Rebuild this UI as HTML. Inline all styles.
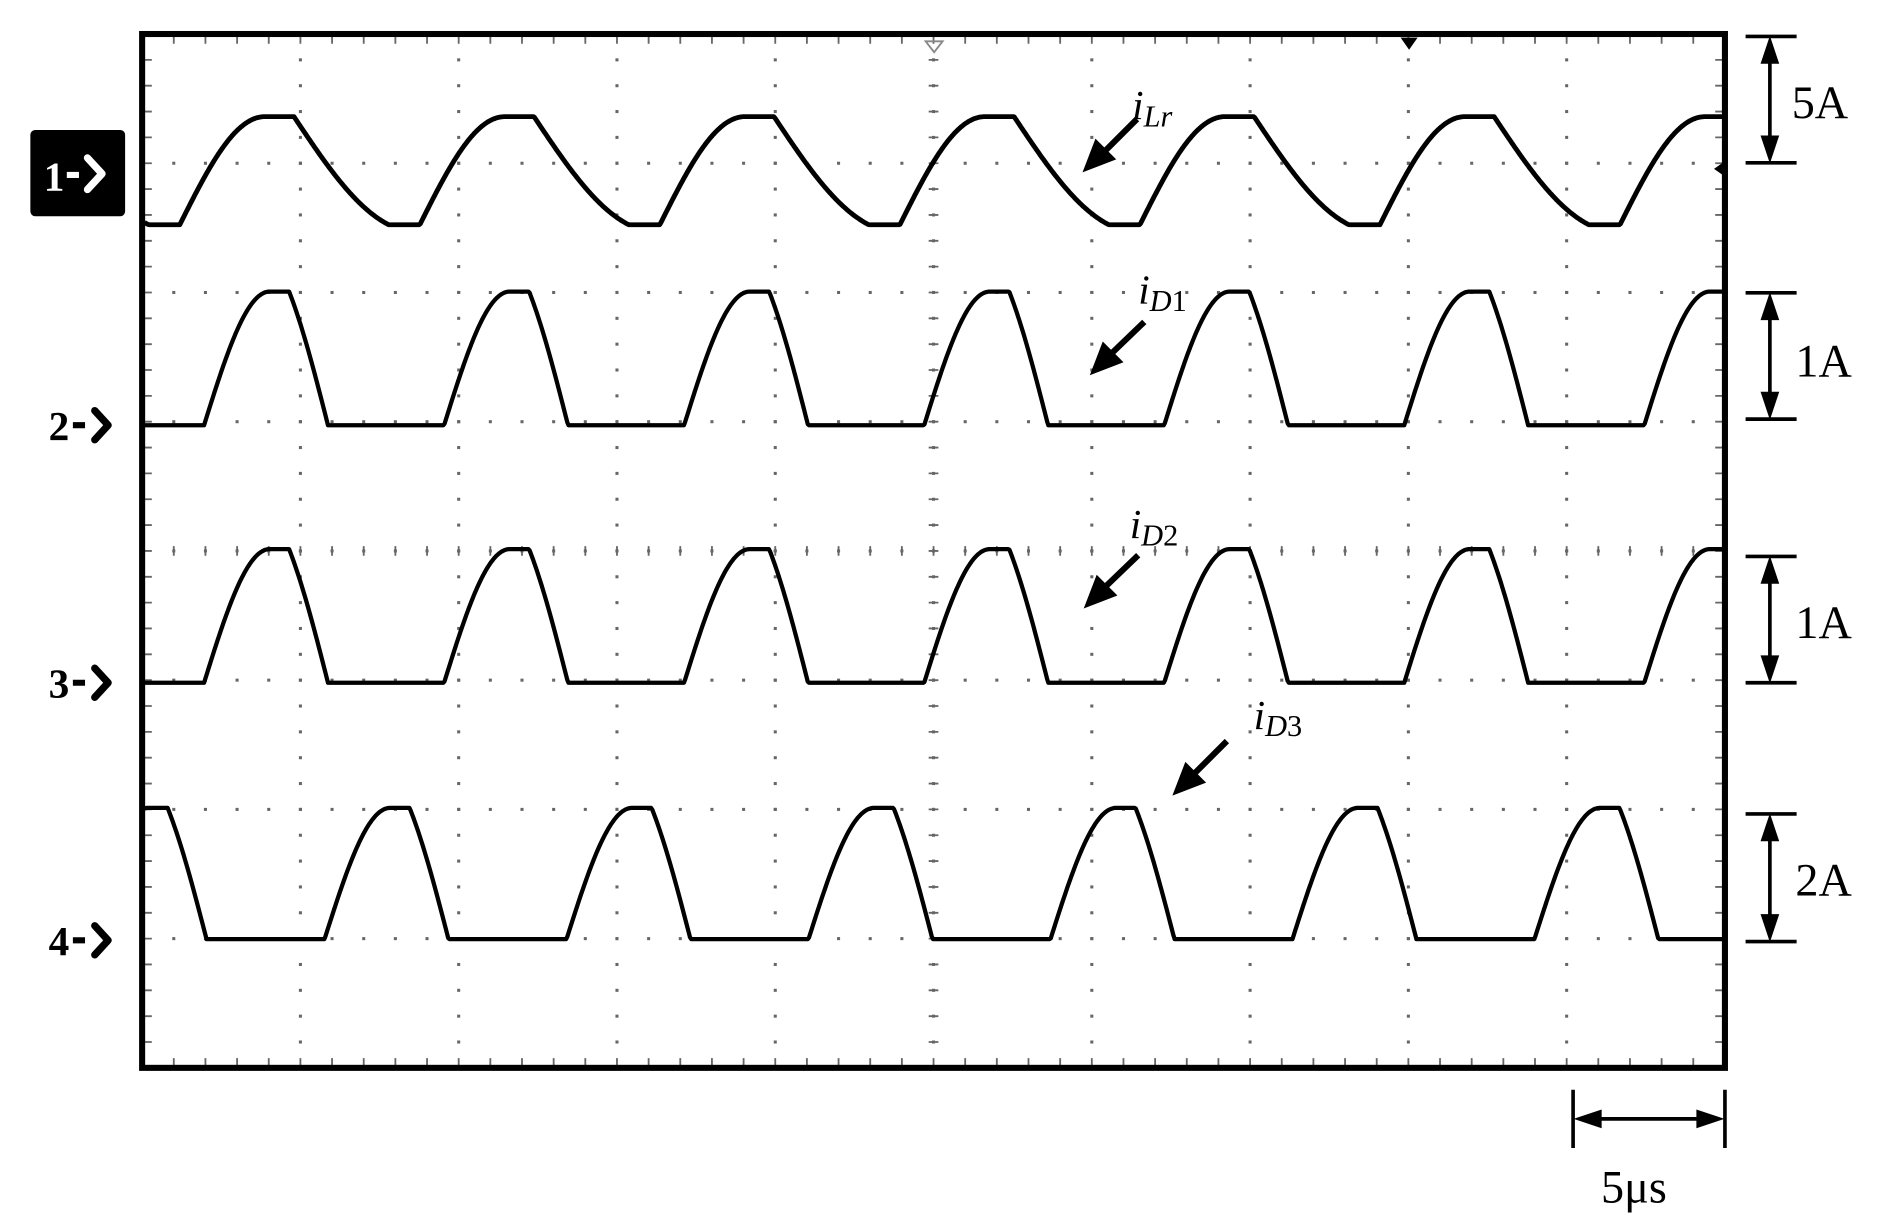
<!DOCTYPE html>
<html><head><meta charset="utf-8">
<style>
html,body{margin:0;padding:0;background:#fff;}
svg{display:block;}
text{font-family:"Liberation Serif",serif;}
</style></head>
<body>
<svg id="s" width="1895" height="1227" viewBox="0 0 1560 1010" preserveAspectRatio="none" xmlns="http://www.w3.org/2000/svg">
<g id="grid" fill="#666"></g>
<g id="waves" fill="none" stroke="#000" stroke-linejoin="round"></g>
<rect x="117" y="28" width="1303" height="851" fill="none" stroke="#000" stroke-width="5"/>
<path d="M762,34 L776,34 L769,43 z" fill="none" stroke="#888" stroke-width="1.5"/>
<path d="M1153,31 L1167,31 L1160,41 z" fill="#000"/>
<path d="M1421,132 L1411,139 L1421,146 z" fill="#000"/>
<rect x="25" y="107" width="78" height="71" rx="4" fill="#000"/>
<text x="36" y="157" font-size="34" font-weight="bold" fill="#fff">1</text>
<path d="M55,144 h10" stroke="#fff" stroke-width="5"/>
<path d="M72,130 L84,143 L72,156" fill="none" stroke="#fff" stroke-width="6" stroke-linecap="round" stroke-linejoin="round"/>
<g font-size="34" font-weight="bold">
<text x="40" y="362">2</text>
<text x="40" y="574">3</text>
<text x="40" y="786">4</text>
</g>
<g stroke="#000" fill="none">
<path d="M60,350 h10 M60,562 h10 M60,774 h10" stroke-width="5"/>
<path d="M78,338 L89,350 L78,362 M78,550 L89,562 L78,574 M78,762 L89,774 L78,786" stroke-width="6" stroke-linecap="round" stroke-linejoin="round"/>
</g>
<g font-style="italic" font-size="34">
<text x="932" y="98">i<tspan font-size="25" dy="6">Lr</tspan></text>
<text x="937" y="250">i<tspan font-size="25" dy="6">D</tspan><tspan font-size="25" font-style="normal">1</tspan></text>
<text x="930" y="443">i<tspan font-size="25" dy="6">D</tspan><tspan font-size="25" font-style="normal">2</tspan></text>
<text x="1032" y="600">i<tspan font-size="25" dy="6">D</tspan><tspan font-size="25" font-style="normal">3</tspan></text>
</g>
<g stroke="#000" stroke-width="5" fill="#000">
<path d="M936,98 L910,124"/><path d="M892,141 L902,115 L918,131 z" stroke-width="1"/>
<path d="M942,265 L916,290"/><path d="M898,308 L908,282 L924,298 z" stroke-width="1"/>
<path d="M937,457 L911,482"/><path d="M893,500 L903,474 L919,490 z" stroke-width="1"/>
<path d="M1010,610 L984,636"/><path d="M966,654 L976,628 L992,644 z" stroke-width="1"/>
</g>
<g stroke="#000" stroke-width="3" fill="#000">
<path d="M1437,30 H1479 M1437,134 H1479 M1457,46 V118"/>
<path d="M1457,31 L1450,52 L1464,52 z M1457,133 L1450,112 L1464,112 z" stroke-width="1"/>
<path d="M1437,241 H1479 M1437,345 H1479 M1457,257 V329"/>
<path d="M1457,242 L1450,263 L1464,263 z M1457,344 L1450,323 L1464,323 z" stroke-width="1"/>
<path d="M1437,458 H1479 M1437,562 H1479 M1457,474 V546"/>
<path d="M1457,459 L1450,480 L1464,480 z M1457,561 L1450,540 L1464,540 z" stroke-width="1"/>
<path d="M1437,670 H1479 M1437,775 H1479 M1457,686 V759"/>
<path d="M1457,671 L1450,692 L1464,692 z M1457,774 L1450,753 L1464,753 z" stroke-width="1"/>
<path d="M1295,897 V945 M1420,897 V945 M1312,921 H1403"/>
<path d="M1297,921 L1318,914 L1318,928 z M1418,921 L1397,914 L1397,928 z" stroke-width="1"/>
</g>
<g font-size="38">
<text x="1475" y="97">5A</text>
<text x="1478" y="310">1A</text>
<text x="1478" y="525">1A</text>
<text x="1478" y="737">2A</text>
<text x="1318" y="990">5μs</text>
</g>
</svg>
<script>
(function(){
var ns="http://www.w3.org/2000/svg";
var g=document.getElementById("grid"), w=document.getElementById("waves");
var X0=117,X1=1420,Y0=28,Y1=879,dx=(X1-X0)/10,dy=(Y1-Y0)/8;
function dot(x,y,s){var r=document.createElementNS(ns,"rect");r.setAttribute("x",x-s/2);r.setAttribute("y",y-s/2);r.setAttribute("width",s);r.setAttribute("height",s);g.appendChild(r);}
for(var i=1;i<10;i++){var x=X0+i*dx;for(var j=0;j<=40;j++){dot(x,Y0+j*dy/5,2.5);}}
for(var j=1;j<8;j++){var y=Y0+j*dy;for(var i=0;i<=50;i++){dot(X0+i*dx/5,y,2.5);}}
function tk(d){var l=document.createElementNS(ns,"path");l.setAttribute("d",d);l.setAttribute("stroke","#666");l.setAttribute("stroke-width","1.5");g.appendChild(l);}
var cx=X0+5*dx,cy=Y0+4*dy;
for(var j=0;j<=40;j++){var y=Y0+j*dy/5;tk("M"+(cx-4)+","+y+"h8M"+(X0+2)+","+y+"h6M"+(X1-8)+","+y+"h6");}
for(var i=0;i<=50;i++){var x=X0+i*dx/5;tk("M"+x+","+(cy-4)+"v8M"+x+","+(Y0+2)+"v6M"+x+","+(Y1-8)+"v6");}
function add(d,sw){var p=document.createElementNS(ns,"path");p.setAttribute("d",d);p.setAttribute("stroke-width",sw);w.appendChild(p);}
function toD(pts){return pts.map(function(p,i){return (i?"L":"M")+p[0].toFixed(1)+","+p[1].toFixed(1);}).join("");}
function wave(f){var pts=[];for(var x=X0+2;x<=X1-2;x+=1){pts.push([x,f(x)]);}return toD(pts);}
var P=197.6;
function ph(x,c0){var t=(x-c0)%P;if(t<0)t+=P;if(t>P/2)t-=P;return t;}
add(wave(function(x){var t=ph(x,230),lo=185,hi=96,A=lo-hi;
 if(t>=-12&&t<=12)return hi;
 if(t<-12){if(t<-82)return lo;var u=(t+82)/70;return lo-A*Math.sin(u*Math.PI/2);}
 if(t>90)return lo;var u=(t-12)/78;return hi+A*(0.55*Math.sin(u*Math.PI/2)+0.45*u);}),4);
function diode(c0,base,pk){return function(x){var t=ph(x,c0),A=base-pk;
 if(t>=-8&&t<=8)return pk;
 if(t<-8){if(t<-62)return base;var u=(t+62)/54;return base-A*Math.sin(u*Math.PI/2);}
 if(t>40)return base;var u=(t-8)/32;return pk+A*(0.25*(1-Math.cos(u*Math.PI/2))+0.75*u);};}
add(wave(diode(230,350,240)),3.5);
add(wave(diode(230,562,452)),3.5);
P=199.2;
add(wave(diode(130,773,665)),3.5);
})();
</script>
</body></html>
